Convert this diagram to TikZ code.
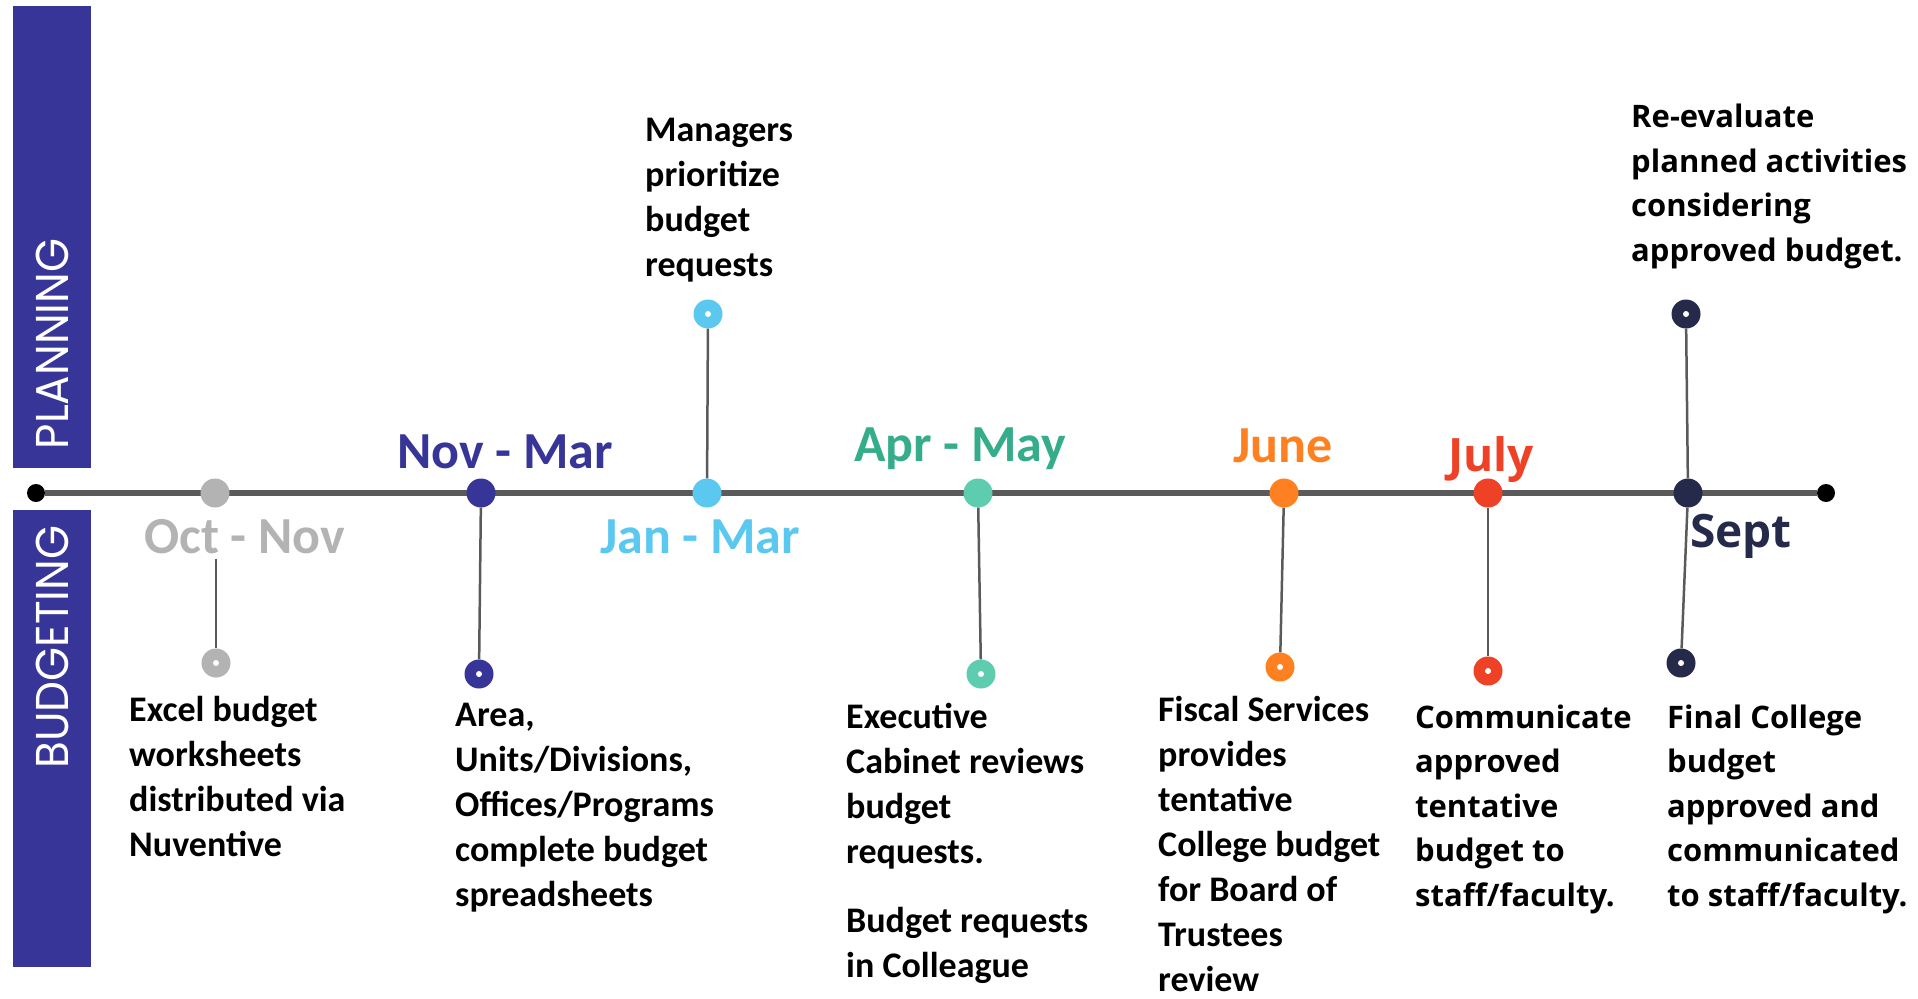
\documentclass[tikz,border=0pt]{standalone}
\usepackage{fontspec}
\setmainfont{Carlito}
\newfontfamily\opensans{Open Sans}
\newfontfamily\poppins{Poppins}
\definecolor{bandblue}{HTML}{383598}
\definecolor{octgray}{HTML}{B3B3B3}
\definecolor{janblue}{HTML}{5BC8F0}
\definecolor{aprgreen}{HTML}{35AD8B}
\definecolor{aprdot}{HTML}{5ECCAE}
\definecolor{juneorange}{HTML}{FF8021}
\definecolor{julyred}{HTML}{EE4125}
\definecolor{septnavy}{HTML}{252A4A}
\definecolor{linegray}{HTML}{5A5A5A}
\begin{document}
\begin{tikzpicture}[x=1pt, y=-1pt,
    mdot/.style={circle, minimum size=29pt, inner sep=0pt},
    enddot/.style={circle, minimum size=29pt, inner sep=0pt,
      path picture={\fill[white] (path picture bounding box.center) circle (3pt);}},
    stem/.style={draw=linegray, line width=2.5pt},
    month/.style={anchor=base west, inner sep=0pt, font=\bfseries\fontsize{52}{52}\selectfont},
    rmonth/.style={month, font=\opensans\bfseries\fontsize{46}{46}\selectfont},
    note/.style={anchor=base west, inner sep=0pt, align=left, font=\bfseries\fontsize{36}{45}\selectfont},
    rnote/.style={note, font=\opensans\bfseries\fontsize{31}{44.5}\selectfont},
    bandtext/.style={text=white, rotate=90, inner sep=0pt, font=\poppins\fontsize{46}{46}\selectfont}]
    \useasboundingbox (0,0) rectangle (1918,998);
    \fill[bandblue] (13,6) rectangle (91,468);
    \fill[bandblue] (13,510) rectangle (91,967);
    \node[bandtext] (plan) at (52,344) {\scalebox{0.95}[1]{PLANNING}};
    \node[bandtext] (budget) at (52,647) {\scalebox{0.95}[1]{BUDGETING}};
    \node[circle, fill=black, minimum size=18pt, inner sep=0pt] (start) at (36,493) {};
    \node[circle, fill=black, minimum size=18pt, inner sep=0pt] (stop) at (1826,493) {};
    \draw[linegray, line width=6pt] (start) -- (stop);
    \foreach \n/\x/\c in {oct/215/octgray, nov/481/bandblue, jan/707/janblue, apr/978/aprdot,
        jun/1284/juneorange, jul/1488/julyred, sep/1688/septnavy}
        \node[mdot, fill=\c] (\n) at (\x,493) {};
    \foreach \n/\x/\y/\c in {octend/216/663/octgray, novend/479/674/bandblue, janend/708/314/janblue,
        aprend/981/674/aprdot, junend/1280/667/juneorange, julend/1488/671/julyred,
        sepup/1686/314/septnavy, sepend/1681/663/septnavy}
        \node[enddot, fill=\c] (\n) at (\x,\y) {};
    \coordinate (octstem) at (216,559);
    \draw[stem] (octstem) -- (octend);
    \foreach \a/\b in {nov/novend, jan/janend, apr/aprend, jun/junend, jul/julend, sepup/sep, sep/sepend}
        \draw[stem] (\a) -- (\b);
    \node[month, text=octgray] (octlbl) at (144,553) {Oct - Nov};
    \node[month, text=bandblue] (novlbl) at (397,468) {Nov - Mar};
    \node[month, text=janblue] (janlbl) at (600,553) {Jan - Mar};
    \node[month, text=aprgreen] (aprlbl) at (854,461) {Apr - May};
    \node[month, text=juneorange] (junlbl) at (1233,462) {June};
    \node[rmonth, text=julyred] (jullbl) at (1448,471) {July};
    \node[rmonth, text=septnavy] (seplbl) at (1690,547) {Sept};
    \node[note] (janote) at (645,276) {Managers\\prioritize\\budget\\requests};
    \node[note] (octnote) at (129,856) {Excel budget\\worksheets\\distributed via\\Nuventive};
    \node[note] (novnote) at (455,906) {Area,\\Units/Divisions,\\Offices/Programs\\complete budget\\spreadsheets};
    \node[note] (aprnote) at (846,977) {Executive\\Cabinet reviews\\budget\\requests.\\[24pt]Budget requests\\in Colleague};
    \node[note] (junnote) at (1158,991) {Fiscal Services\\provides\\tentative\\College budget\\for Board of\\Trustees\\review};
    \node[rnote] (julnote) at (1415,906) {Communicate\\approved\\tentative\\budget to\\staff/faculty.};
    \node[rnote] (sepnote) at (1667,906) {Final College\\budget\\approved and\\communicated\\to staff/faculty.};
    \node[rnote] (sepupnote) at (1631,261) {Re-evaluate\\planned activities\\considering\\approved budget.};
\end{tikzpicture}
\end{document}
